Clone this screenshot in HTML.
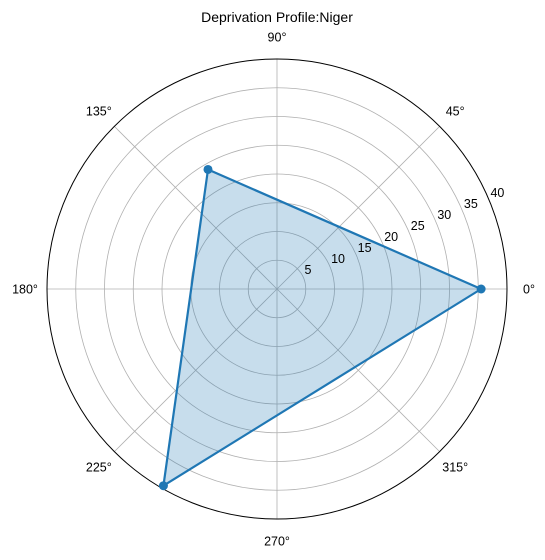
<!DOCTYPE html>
<html><head><meta charset="utf-8"><style>
html,body{margin:0;padding:0;background:#fff;}
svg text{font-family:"Liberation Sans","DejaVu Sans",sans-serif;fill:#000;}
</style></head><body>
<svg id="chart" width="545" height="555" viewBox="0 0 545 555">
<text x="277" y="22" font-size="14" text-anchor="middle">Deprivation Profile:Niger</text>
<g id="grid"></g>
<g id="series"></g>
<g id="labels"></g>
</svg>
<script>
const angles = [0, 120, 240];
const values = [35.5, 24, 39.5];
const radialTicks = [5, 10, 15, 20, 25, 30, 35, 40];
const angleTicks = [0, 45, 90, 135, 180, 225, 270, 315];
const rMax = 40;
const cx = 277, cy = 289, R = 230;
const NS = "http://www.w3.org/2000/svg";
function rs(v){ return v / rMax * R; }
function pt(a, v){ const t = a*Math.PI/180; return [cx + rs(v)*Math.cos(t), cy - rs(v)*Math.sin(t)]; }
function mk(tag, attrs, parent){ const e = document.createElementNS(NS, tag); for (const k in attrs) e.setAttribute(k, attrs[k]); parent.appendChild(e); return e; }
const grid = document.getElementById('grid');
const series = document.getElementById('series');
const labels = document.getElementById('labels');
radialTicks.forEach(t => {
  if (t === rMax) return;
  const c = mk('circle', {cx: cx, cy: cy, r: rs(t), fill: 'none', stroke: '#b0b0b0', 'stroke-width': 0.8}, grid);
  
  
});
angleTicks.forEach(a => {
  const [x, y] = pt(a, rMax);
  const l = mk('line', {x1: cx, y1: cy, x2: x, y2: y, stroke: '#b0b0b0', 'stroke-width': 0.8}, grid);
  
  
  const t = a*Math.PI/180;
  const tx = cx + 252*Math.cos(t), ty = cy - 252*Math.sin(t);
  const tl = mk('text', {x: tx, y: ty + 4.5, 'font-size': 12.5, 'text-anchor': 'middle'}, labels);
  tl.textContent = a + '°';
  
  
});
const outer = mk('circle', {cx: cx, cy: cy, r: R, fill: 'none', stroke: '#000', 'stroke-width': 1}, grid);


radialTicks.forEach(t => {
  const [x, y] = pt(22.5, t);
  const tl = mk('text', {x: x + 1, y: y - 4, 'font-size': 12.5, 'text-anchor': 'start'}, labels);
  tl.textContent = t;
  
  
});
const pts = angles.map((a, i) => pt(a, values[i]));
const d = pts.map(p => p.join(',')).join(' ');
const fill = mk('polygon', {points: d, fill: '#1f77b4', 'fill-opacity': 0.25, stroke: 'none'}, series);


const line = mk('polygon', {points: d, fill: 'none', stroke: '#1f77b4', 'stroke-width': 2.2, 'stroke-linejoin': 'round'}, series);


pts.forEach(p => {
  const m = mk('circle', {cx: p[0], cy: p[1], r: 4.5, fill: '#1f77b4'}, series);
  
  
});
</script>
</body></html>
